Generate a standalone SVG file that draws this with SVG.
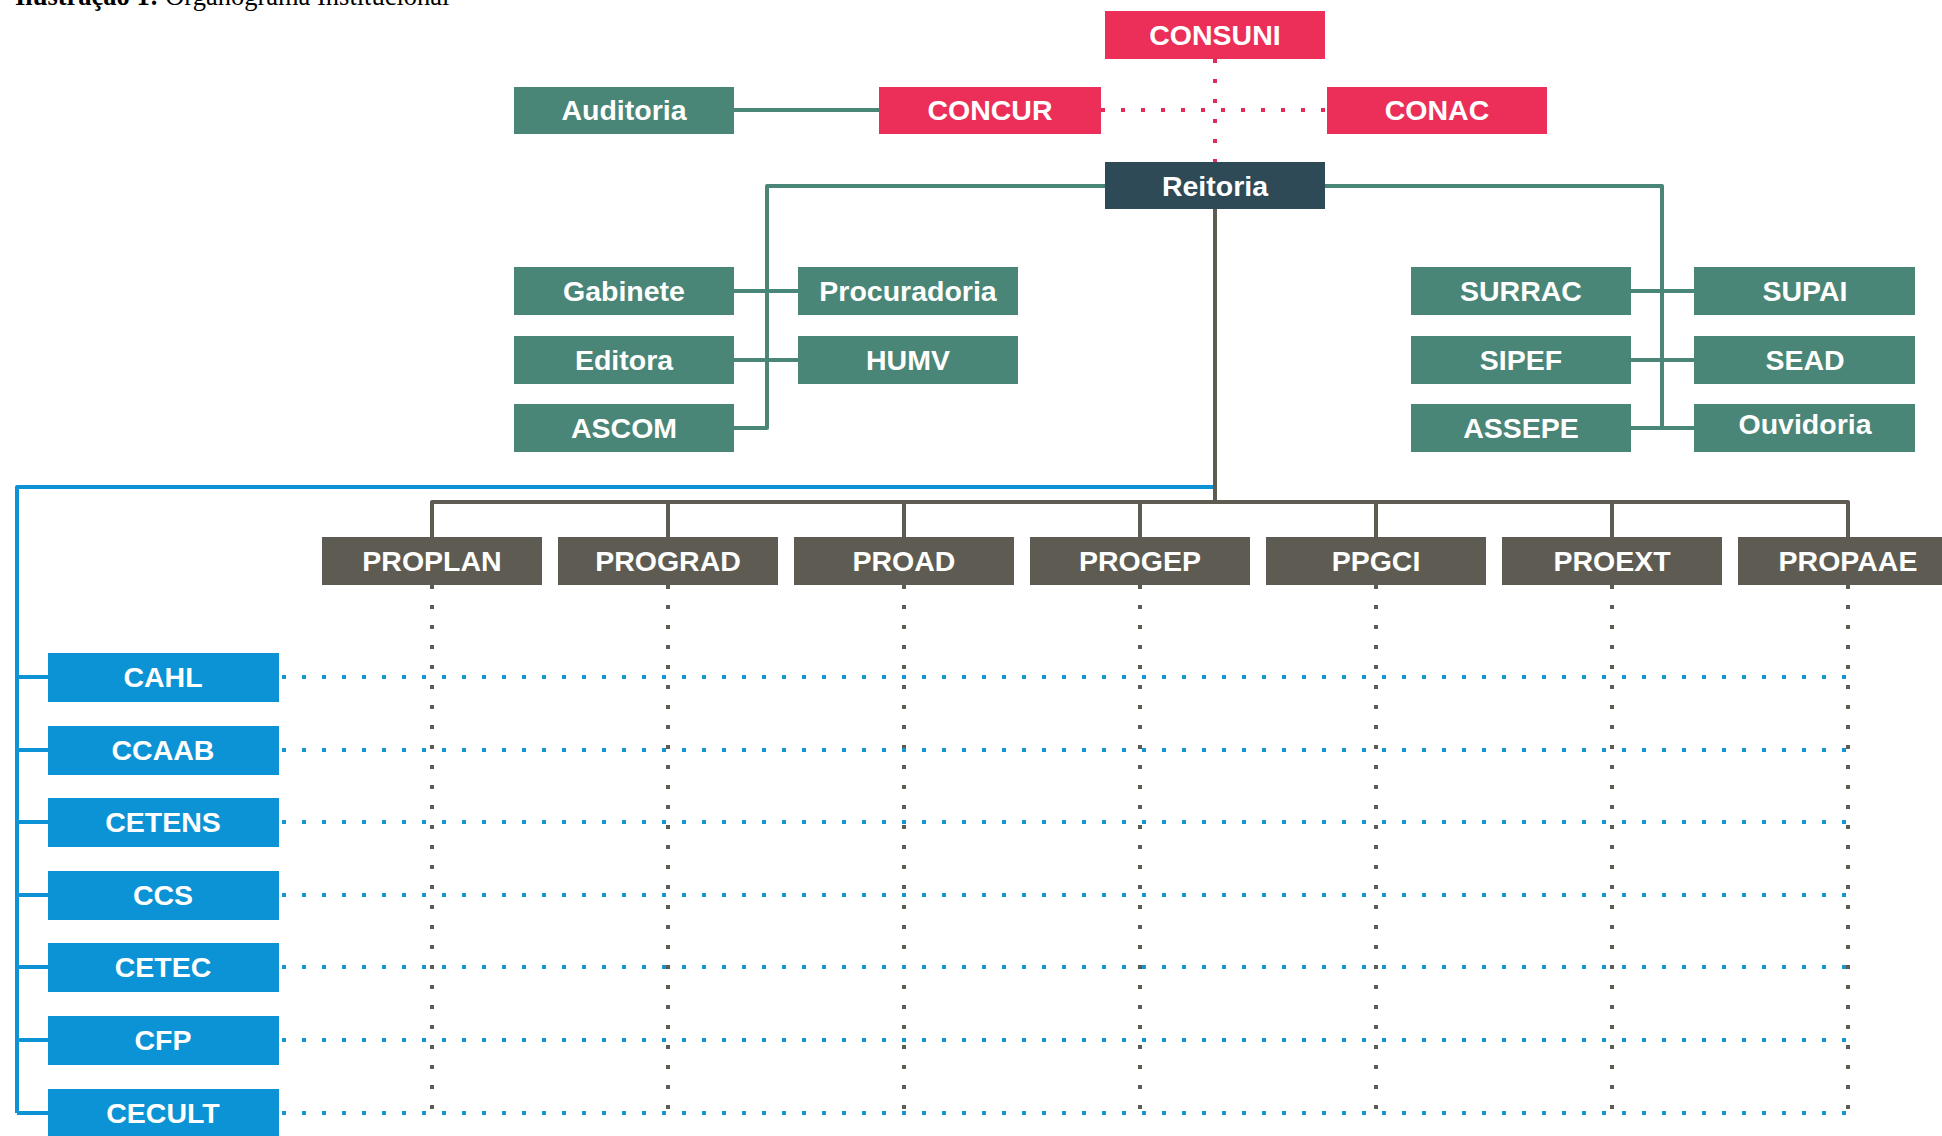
<svg xmlns="http://www.w3.org/2000/svg" width="1942" height="1136" viewBox="0 0 1942 1136">
<style>
.t{font-family:"Liberation Sans",Arial,sans-serif;font-weight:bold;font-size:28.5px;fill:#ffffff;text-anchor:middle}
.g{fill:#4a8677}
.r{fill:#ec2f59}
.d{fill:#2e4a57}
.p{fill:#5e5b52}
.b{fill:#0b93d5}
.lg{stroke:#4a8677;stroke-width:4;fill:none;stroke-linejoin:round}
.lp{stroke:#5e5b52;stroke-width:4;fill:none;stroke-linejoin:round}
.lb{stroke:#0b93d5;stroke-width:4;fill:none;stroke-linejoin:round}
.dr{stroke:#e22c58;stroke-width:4;stroke-dasharray:4 16;fill:none}
.dp{stroke:#5e5b52;stroke-width:4;stroke-dasharray:4 16;fill:none}
.db{stroke:#1596d0;stroke-width:4;stroke-dasharray:4 16;fill:none}
</style>
<rect width="1942" height="1136" fill="#ffffff"/>
<text x="15" y="5" font-family="Liberation Serif,'Times New Roman',serif" font-size="26.5" fill="#000"><tspan font-weight="bold">Ilustração 1:</tspan> Organograma Institucional</text>

<g id="connectors">
<path class="lg" d="M734 110 H879"/>
<path class="dr" d="M1101 110 H1327"/>
<path class="dr" d="M1215 59 V162"/>
<path class="lg" d="M1105 186 H767 V428 H734"/>
<path class="lg" d="M734 291 H798 M734 360 H798"/>
<path class="lg" d="M1324 186 H1662 V428 H1631"/>
<path class="lg" d="M1631 291 H1694 M1631 360 H1694 M1662 428 H1694"/>
<path class="lb" d="M1215 487 H17 V1113"/>
<path class="lb" d="M17 677 H48 M17 750 H48 M17 822 H48 M17 895 H48 M17 967 H48 M17 1040 H48 M17 1113 H48"/>
<path class="lp" d="M1215 209 V502"/>
<path class="lp" d="M432 537 V502 H1848 V537 M668 502 V537 M904 502 V537 M1140 502 V537 M1376 502 V537 M1612 502 V537"/>
<path class="dp" d="M432 585 V1115 M668 585 V1115 M904 585 V1115 M1140 585 V1115 M1376 585 V1115 M1612 585 V1115 M1848 585 V1115"/>
<path class="db" d="M282 677 H1850 M282 750 H1850 M282 822 H1850 M282 895 H1850 M282 967 H1850 M282 1040 H1850 M282 1113 H1850"/>
</g>

<g id="consuni"><rect class="r" x="1105" y="11" width="220" height="48"/><text class="t" x="1215" y="45">CONSUNI</text></g>
<g id="auditoria"><rect class="g" x="514" y="87" width="220" height="47"/><text class="t" x="624" y="120">Auditoria</text></g>
<g id="concur"><rect class="r" x="879" y="87" width="222" height="47"/><text class="t" x="990" y="120">CONCUR</text></g>
<g id="conac"><rect class="r" x="1327" y="87" width="220" height="47"/><text class="t" x="1437" y="120">CONAC</text></g>
<g id="reitoria"><rect class="d" x="1105" y="162" width="220" height="47"/><text class="t" x="1215" y="196">Reitoria</text></g>

<g id="gabinete"><rect class="g" x="514" y="267" width="220" height="48"/><text class="t" x="624" y="301">Gabinete</text></g>
<g id="procuradoria"><rect class="g" x="798" y="267" width="220" height="48"/><text class="t" x="908" y="301">Procuradoria</text></g>
<g id="editora"><rect class="g" x="514" y="336" width="220" height="48"/><text class="t" x="624" y="370">Editora</text></g>
<g id="humv"><rect class="g" x="798" y="336" width="220" height="48"/><text class="t" x="908" y="370">HUMV</text></g>
<g id="ascom"><rect class="g" x="514" y="404" width="220" height="48"/><text class="t" x="624" y="438">ASCOM</text></g>

<g id="surrac"><rect class="g" x="1411" y="267" width="220" height="48"/><text class="t" x="1521" y="301">SURRAC</text></g>
<g id="supai"><rect class="g" x="1694" y="267" width="221" height="48"/><text class="t" x="1805" y="301">SUPAI</text></g>
<g id="sipef"><rect class="g" x="1411" y="336" width="220" height="48"/><text class="t" x="1521" y="370">SIPEF</text></g>
<g id="sead"><rect class="g" x="1694" y="336" width="221" height="48"/><text class="t" x="1805" y="370">SEAD</text></g>
<g id="assepe"><rect class="g" x="1411" y="404" width="220" height="48"/><text class="t" x="1521" y="438">ASSEPE</text></g>
<g id="ouvidoria"><rect class="g" x="1694" y="404" width="221" height="48"/><text class="t" x="1805" y="434">Ouvidoria</text></g>

<g id="proplan"><rect class="p" x="322" y="537" width="220" height="48"/><text class="t" x="432" y="571">PROPLAN</text></g>
<g id="prograd"><rect class="p" x="558" y="537" width="220" height="48"/><text class="t" x="668" y="571">PROGRAD</text></g>
<g id="proad"><rect class="p" x="794" y="537" width="220" height="48"/><text class="t" x="904" y="571">PROAD</text></g>
<g id="progep"><rect class="p" x="1030" y="537" width="220" height="48"/><text class="t" x="1140" y="571">PROGEP</text></g>
<g id="ppgci"><rect class="p" x="1266" y="537" width="220" height="48"/><text class="t" x="1376" y="571">PPGCI</text></g>
<g id="proext"><rect class="p" x="1502" y="537" width="220" height="48"/><text class="t" x="1612" y="571">PROEXT</text></g>
<g id="propaae"><rect class="p" x="1738" y="537" width="220" height="48"/><text class="t" x="1848" y="571">PROPAAE</text></g>

<g id="cahl"><rect class="b" x="48" y="653" width="231" height="49"/><text class="t" x="163" y="687">CAHL</text></g>
<g id="ccaab"><rect class="b" x="48" y="726" width="231" height="49"/><text class="t" x="163" y="760">CCAAB</text></g>
<g id="cetens"><rect class="b" x="48" y="798" width="231" height="49"/><text class="t" x="163" y="832">CETENS</text></g>
<g id="ccs"><rect class="b" x="48" y="871" width="231" height="49"/><text class="t" x="163" y="905">CCS</text></g>
<g id="cetec"><rect class="b" x="48" y="943" width="231" height="49"/><text class="t" x="163" y="977">CETEC</text></g>
<g id="cfp"><rect class="b" x="48" y="1016" width="231" height="49"/><text class="t" x="163" y="1050">CFP</text></g>
<g id="cecult"><rect class="b" x="48" y="1089" width="231" height="49"/><text class="t" x="163" y="1123">CECULT</text></g>
</svg>
